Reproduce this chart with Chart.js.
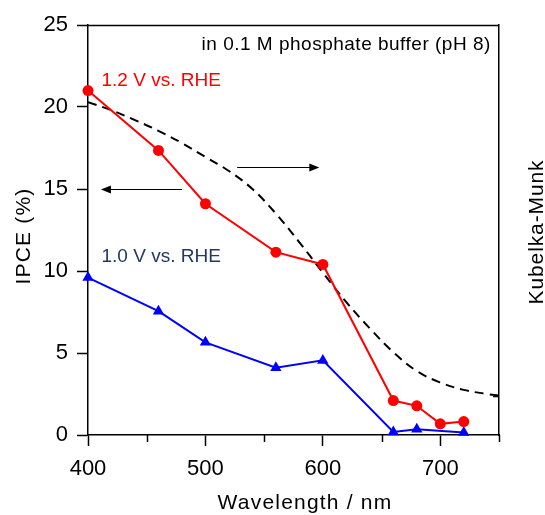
<!DOCTYPE html>
<html>
<head>
<meta charset="utf-8">
<script src="https://cdn.jsdelivr.net/npm/chart.js@4"></script>
<style>
  body { margin: 0; background: #fff; }
  #wrap { width: 545px; height: 515px; }
</style>
</head>
<body>
<div id="wrap"><canvas id="chart"></canvas></div>
<script>
// IPCE at 1.2 V vs. RHE
const wavelengths12 = [400, 460, 500, 560, 600, 660, 680, 700, 720];
const ipce12 = [21.0, 17.35, 14.1, 11.15, 10.4, 2.1, 1.78, 0.68, 0.82];

// IPCE at 1.0 V vs. RHE
const wavelengths10 = [400, 460, 500, 560, 600, 660, 680, 720];
const ipce10 = [9.6, 7.55, 5.65, 4.1, 4.55, 0.18, 0.35, 0.15];

// Kubelka-Munk absorption (right axis, arbitrary units)
const kmWavelengths = [400, 420, 440, 460, 480, 500, 520, 540, 560, 580, 600, 620, 640, 660, 680, 700, 720, 740, 750];
const kubelkaMunk = [20.3, 19.8, 19.2, 18.55, 17.8, 16.95, 16.1, 15.0, 13.5, 11.75, 9.9, 8.1, 6.5, 5.05, 3.9, 3.2, 2.75, 2.5, 2.4];

const xMajorTicks = [400, 500, 600, 700];
const xMinorTicks = [450, 550, 650, 750];
const yTicks = [0, 5, 10, 15, 20, 25];
const kmTicks = [2.4];

const FONT = 'Arial, "Liberation Sans", sans-serif';

const toPoints = (xs, ys) => xs.map((v, i) => ({ x: v, y: ys[i] }));

function drawArrow(ctx, x0, y0, x1, y1) {
    const dir = Math.sign(x1 - x0);
    ctx.beginPath();
    ctx.moveTo(x0, y0);
    ctx.lineTo(x1 - dir * 8, y1);
    ctx.stroke();
    ctx.beginPath();
    ctx.moveTo(x1, y1);
    ctx.lineTo(x1 - dir * 10, y1 - 4);
    ctx.lineTo(x1 - dir * 10, y1 + 4);
    ctx.closePath();
    ctx.fill();
}

const decor = {
    id: 'decor',
    afterDraw(chart) {
        const { ctx, chartArea: a, scales: { x, y, y1 } } = chart;
        ctx.save();
        ctx.strokeStyle = '#000';
        ctx.fillStyle = '#000';
        ctx.lineWidth = 1.5;

        // top frame line
        ctx.beginPath();
        ctx.moveTo(a.left, Math.round(a.top) + 0.5);
        ctx.lineTo(a.right, Math.round(a.top) + 0.5);
        ctx.stroke();

        // short minor ticks on the x axis
        xMinorTicks.forEach(v => {
            const px = Math.round(x.getPixelForValue(v)) + 0.5;
            ctx.beginPath();
            ctx.moveTo(px, a.bottom);
            ctx.lineTo(px, a.bottom + 7);
            ctx.stroke();
        });

        // inward tick on the Kubelka-Munk axis
        kmTicks.forEach(v => {
            const py = Math.round(y1.getPixelForValue(v)) + 0.5;
            ctx.beginPath();
            ctx.moveTo(a.right - 6, py);
            ctx.lineTo(a.right, py);
            ctx.stroke();
        });

        // arrows telling which axis belongs to which curve
        ctx.lineWidth = 1;
        const ly = Math.round(y.getPixelForValue(15)) + 0.5;
        drawArrow(ctx, x.getPixelForValue(480), ly, x.getPixelForValue(411), ly);
        const ry = Math.round(y.getPixelForValue(16.35)) + 0.5;
        drawArrow(ctx, x.getPixelForValue(527), ry, x.getPixelForValue(597), ry);

        // annotations
        ctx.textBaseline = 'alphabetic';
        ctx.font = '19px ' + FONT;
        ctx.letterSpacing = '0.5px';
        ctx.textAlign = 'right';
        ctx.fillText('in 0.1 M phosphate buffer (pH 8)', x.getPixelForValue(743), y.getPixelForValue(23.5));
        ctx.letterSpacing = '0px';
        ctx.textAlign = 'left';
        ctx.fillStyle = '#FF0000';
        ctx.fillText('1.2 V vs. RHE', x.getPixelForValue(411.5), y.getPixelForValue(21.3));
        ctx.fillStyle = '#1F3864';
        ctx.fillText('1.0 V vs. RHE', x.getPixelForValue(411.5), y.getPixelForValue(10.57));

        // axis titles
        ctx.fillStyle = '#000';
        ctx.font = '21px ' + FONT;
        ctx.letterSpacing = '1.2px';
        ctx.textAlign = 'center';
        ctx.fillText('Wavelength / nm', 305, 508.5);

        ctx.save();
        ctx.translate(29.5, 236);
        ctx.rotate(-Math.PI / 2);
        ctx.fillText('IPCE (%)', 0, 0);
        ctx.restore();

        ctx.save();
        ctx.translate(542.5, 232);
        ctx.rotate(-Math.PI / 2);
        ctx.letterSpacing = '0.9px';
        ctx.fillText('Kubelka-Munk', 0, 0);
        ctx.restore();

        ctx.restore();
    }
};

const ctx = document.getElementById('chart').getContext('2d');

new Chart(ctx, {
    type: 'line',
    data: {
        datasets: [
            {
                label: '1.2 V vs. RHE',
                data: toPoints(wavelengths12, ipce12),
                borderColor: '#FF0000',
                backgroundColor: '#FF0000',
                borderWidth: 2,
                pointStyle: 'circle',
                pointRadius: 5.5,
                pointBorderWidth: 0,
                clip: false,
            },
            {
                label: '1.0 V vs. RHE',
                data: toPoints(wavelengths10, ipce10),
                borderColor: '#0000FF',
                backgroundColor: '#0000FF',
                borderWidth: 2,
                pointStyle: 'triangle',
                pointRadius: 6.5,
                pointBorderWidth: 0,
                clip: false,
            },
            {
                label: 'Kubelka-Munk',
                data: toPoints(kmWavelengths, kubelkaMunk),
                yAxisID: 'y1',
                borderColor: '#000',
                borderWidth: 2,
                borderDash: [9, 6],
                pointRadius: 0,
                tension: 0.4,
            }
        ]
    },
    options: {
        responsive: true,
        maintainAspectRatio: false,
        devicePixelRatio: 1,
        animation: false,
        layout: { padding: { top: 25, left: 0, right: 0, bottom: 0 } },
        plugins: {
            legend: { display: false },
            tooltip: { enabled: false },
        },
        scales: {
            x: {
                type: 'linear',
                min: 400,
                max: 750,
                afterFit: s => { s.height = 80; },
                afterBuildTicks: s => { s.ticks = xMajorTicks.map(v => ({ value: v })); },
                ticks: {
                    color: '#000',
                    font: { size: 22, family: FONT },
                    padding: 10,
                    maxRotation: 0,
                    autoSkip: false,
                },
                grid: {
                    drawOnChartArea: false,
                    drawTicks: true,
                    tickLength: 11,
                    tickColor: '#000',
                    tickWidth: 1.5,
                },
                border: { color: '#000', width: 1.5 },
            },
            y: {
                position: 'left',
                min: 0,
                max: 25,
                afterFit: s => { s.width = 88; },
                afterBuildTicks: s => { s.ticks = yTicks.map(v => ({ value: v })); },
                ticks: {
                    color: '#000',
                    font: { size: 22, family: FONT },
                    padding: 9,
                },
                grid: {
                    drawOnChartArea: false,
                    drawTicks: true,
                    tickLength: 11,
                    tickColor: '#000',
                    tickWidth: 1.5,
                },
                border: { color: '#000', width: 1.5 },
            },
            y1: {
                position: 'right',
                min: 0,
                max: 25,
                afterFit: s => { s.width = 46; },
                ticks: { display: false },
                grid: { drawOnChartArea: false, drawTicks: false },
                border: { color: '#000', width: 1.5 },
            }
        }
    },
    plugins: [decor]
});
</script>
</body>
</html>
